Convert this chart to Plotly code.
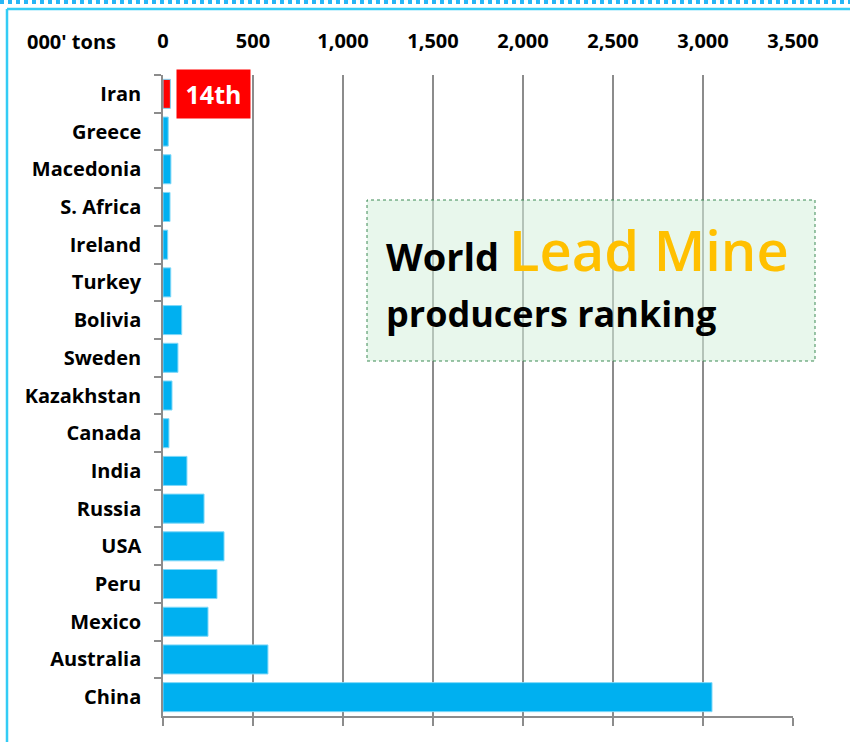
import plotly.graph_objects as go

# World lead mine production, thousand tons
countries = ["Iran", "Greece", "Macedonia", "S. Africa", "Ireland", "Turkey",
             "Bolivia", "Sweden", "Kazakhstan", "Canada", "India", "Russia",
             "USA", "Peru", "Mexico", "Australia", "China"]
output = [41, 29, 44, 39, 26, 43, 104, 83, 50, 33, 133, 228, 339, 300, 250, 583, 3050]
tick_vals = [0, 500, 1000, 1500, 2000, 2500, 3000, 3500]
tick_text = ["0", "500", "1,000", "1,500", "2,000", "2,500", "3,000", "3,500"]

colors = ["#ff0000" if c == "Iran" else "#00b0f0" for c in countries]
FONT = "Open Sans"
GRID = "#8c8c8c"

fig = go.Figure()
fig.add_trace(go.Bar(
    x=output, y=countries, orientation="h",
    marker=dict(color=colors, line=dict(color="#7fd8f8", width=1)),
    hoverinfo="x+y", showlegend=False,
))
# invisible copy so the top label axis is drawn
fig.add_trace(go.Scatter(
    x=output, y=countries, xaxis="x2", mode="markers",
    marker=dict(opacity=0), hoverinfo="skip", showlegend=False,
))

fig.update_layout(
    width=850, height=742,
    margin=dict(l=163, r=57, t=75, b=26, autoexpand=False),
    paper_bgcolor="white", plot_bgcolor="white",
    bargap=0.23,
    font=dict(family=FONT, color="black"),
    xaxis=dict(
        range=[0, 3500], tickvals=tick_vals, showticklabels=False,
        showgrid=True, gridcolor=GRID, gridwidth=1.5, zeroline=False,
        showline=True, linecolor=GRID, linewidth=1.5, automargin=False,
        ticks="outside", ticklen=8, tickcolor=GRID, tickwidth=1.5,
    ),
    xaxis2=dict(
        range=[0, 3500], overlaying="x", side="top", automargin=False,
        tickvals=tick_vals, ticktext=tick_text, showgrid=False,
        zeroline=False, showline=False, ticks="",
        ticklabelstandoff=22,
        tickfont=dict(family=FONT, size=20, color="black", weight="bold"),
    ),
    yaxis=dict(
        range=[len(countries) - 0.5, -0.5], tickson="boundaries", automargin=False,
        ticks="outside", ticklen=7, tickcolor=GRID, tickwidth=1.5,
        showline=True, linecolor=GRID, linewidth=1.5, showgrid=False,
        ticklabelstandoff=16,
        tickfont=dict(family=FONT, size=20, color="black", weight="bold"),
    ),
)

def px(x):
    return (x - 163) / 630

def py(y):
    return (716 - y) / 641

shapes = [
    # outer light-blue frame
    dict(type="line", xref="paper", yref="paper", x0=px(7), x1=px(850),
         y0=py(9), y1=py(9), line=dict(color="#33ccf5", width=2.5)),
    dict(type="line", xref="paper", yref="paper", x0=px(7), x1=px(7),
         y0=py(9), y1=py(742), line=dict(color="#33ccf5", width=2.5)),
    dict(type="line", xref="paper", yref="paper", x0=px(0), x1=px(850),
         y0=py(2), y1=py(2), line=dict(color="#29b6f6", width=4, dash="dot")),
    # title box
    dict(type="rect", xref="paper", yref="paper", x0=px(367), x1=px(815),
         y0=py(361), y1=py(200), fillcolor="rgba(214,241,220,0.55)",
         line=dict(color="#3d8a55", width=1, dash="dot"), layer="above"),
]
fig.update_layout(shapes=shapes)

fig.add_annotation(xref="paper", yref="paper", x=px(71), y=py(41),
                   xanchor="center", yanchor="middle",
                   text="<b>000' tons</b>", showarrow=False,
                   font=dict(family=FONT, size=20, color="black"))
fig.add_annotation(xref="paper", yref="paper", x=px(213.5), y=py(94),
                   xanchor="center", yanchor="middle",
                   text="<b>14th</b>", showarrow=False, bgcolor="#ff0000",
                   width=73, height=48, borderpad=0,
                   font=dict(family=FONT, size=25, color="white"))
fig.add_annotation(xref="paper", yref="paper", x=px(384), y=py(249),
                   xanchor="left", yanchor="middle", showarrow=False,
                   text="<b>World</b> <span style='font-size:56px;color:#ffc000;font-weight:600'>Lead Mine</span>",
                   font=dict(family=FONT, size=38, color="black"))
fig.add_annotation(xref="paper", yref="paper", x=px(384), y=py(313),
                   xanchor="left", yanchor="middle", showarrow=False,
                   text="<b>producers ranking</b>",
                   font=dict(family=FONT, size=36, color="black"))

fig.write_html("out.html", config={"displayModeBar": False},
               post_script="document.body.style.margin='0';")
